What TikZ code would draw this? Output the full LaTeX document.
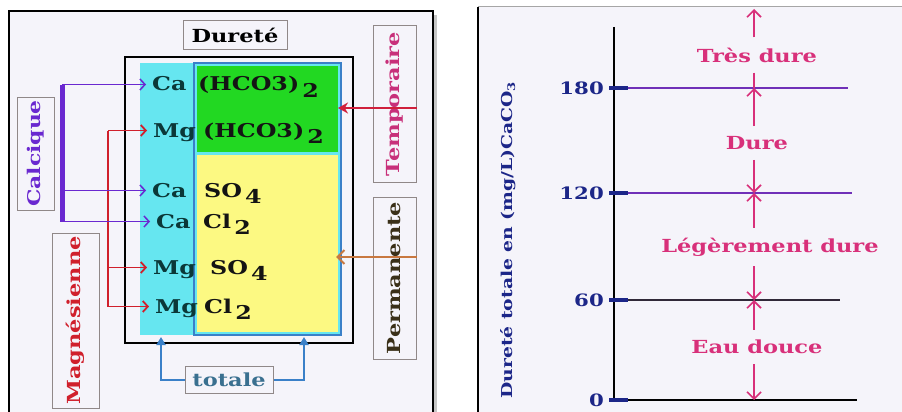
\documentclass[tikz,border=0pt]{standalone}
\usepackage{fontspec}
\setmainfont{DejaVu Serif}[FakeStretch=1.25]
\usetikzlibrary{arrows.meta,positioning}

\definecolor{panelbg}{HTML}{F5F4FA}
\definecolor{tagline}{HTML}{908888}
\definecolor{cyanfill}{HTML}{66E6F0}
\definecolor{greenfill}{HTML}{22D822}
\definecolor{yellowfill}{HTML}{FCF982}
\definecolor{blueline}{HTML}{3A80C8}
\definecolor{iondark}{HTML}{0B3838}
\definecolor{saltdark}{HTML}{141414}
\definecolor{calcol}{HTML}{6A28D0}
\definecolor{magcol}{HTML}{D0202C}
\definecolor{tempcol}{HTML}{C8307A}
\definecolor{temparrow}{HTML}{D0203C}
\definecolor{permcol}{HTML}{3A3018}
\definecolor{permarrow}{HTML}{C87840}
\definecolor{totcol}{HTML}{3A7090}
\definecolor{rngcol}{HTML}{D8307A}
\definecolor{numcol}{HTML}{1C2688}
\definecolor{hlpurple}{HTML}{7030B8}
\definecolor{hldark}{HTML}{302838}

\newcommand{\dropidx}[1]{\,\raisebox{-6pt}{#1}}

\begin{document}
\begin{tikzpicture}[x=1pt, y=-1pt,
    tag/.style={rectangle, draw=tagline, line width=1pt, fill=panelbg, inner sep=0pt, font=\bfseries\fontsize{18}{20}\selectfont},
    ion/.style={anchor=base west, inner xsep=6pt, inner ysep=0pt, text height=13pt, text depth=0pt, text=iondark, font=\bfseries\fontsize{19}{21}\selectfont},
    salt/.style={anchor=base west, inner sep=0pt, text=saltdark, font=\bfseries\fontsize{19}{21}\selectfont},
    calarr/.style={-{Straight Barb[length=5pt,width=11pt]}, draw=calcol, line width=1.5pt},
    magarr/.style={-{Straight Barb[length=5pt,width=11pt]}, draw=magcol, line width=1.8pt},
    totarr/.style={-{Triangle[length=8pt,width=9pt]}, draw=blueline, line width=2.2pt},
    rng/.style={text=rngcol, inner xsep=2pt, inner ysep=10pt, font=\bfseries\fontsize{18}{20}\selectfont},
    rngarr/.style={-{Straight Barb[length=7pt,width=14pt]}, draw=rngcol, line width=1.6pt},
    num/.style={anchor=east, text=numcol, inner sep=2pt, font=\bfseries\fontsize{17}{19}\selectfont}
]
    \useasboundingbox (0,0) rectangle (902,412);
    \fill[white] (0,0) rectangle (902,412);

    % panels
    \fill[gray!45] (13,15) rectangle (437,420);
    \draw[draw=black, line width=1.4pt, fill=panelbg] (9,11) rectangle (433,420);
    \fill[panelbg] (478,7) rectangle (910,420);
    \draw[gray!70, line width=1pt] (478,7) -- (910,7);
    \draw[black, line width=1.4pt] (478,7) -- (478,420);

    % left: table of salts
    \node[tag, minimum width=104pt, minimum height=29pt] (durete) at (235,35) {Dureté};
    \draw[black, line width=1.8pt] (125,57) rectangle (353,343);
    \fill[cyanfill] (140,63) rectangle (341,335);
    \fill[greenfill] (197,66) rectangle (338,152);
    \fill[yellowfill] (197,155) rectangle (338,332);
    \draw[blueline, line width=1.8pt] (194,63) rectangle (341,335);

    \node[ion] (ca1) at (146,91) {Ca};
    \node[ion] (mg1) at (147,137) {Mg};
    \node[ion] (ca2) at (146,197) {Ca};
    \node[ion] (ca3) at (150,228) {Ca};
    \node[ion] (mg2) at (147,274) {Mg};
    \node[ion] (mg3) at (149,313) {Mg};

    \node[salt] (hco1) at (198,91) {(HCO3)\dropidx{2}};
    \node[salt] (hco2) at (203,137) {(HCO3)\dropidx{2}};
    \node[salt] (so1) at (204,197) {SO\dropidx{4}};
    \node[salt] (cl1) at (203,228) {Cl\dropidx{2}};
    \node[salt] (so2) at (210,274) {SO\dropidx{4}};
    \node[salt] (cl2) at (204,313) {Cl\dropidx{2}};

    % calcique / magnesienne
    \node[tag, rotate=90, minimum width=113pt, minimum height=37pt, text=calcol, font=\bfseries\fontsize{17.5}{20}\selectfont] (calc) at (35.5,153.5) {Calcique};
    \node[tag, rotate=90, minimum width=175pt, minimum height=47pt, text=magcol, font=\bfseries\fontsize{18}{20}\selectfont] (magn) at (75.5,320.5) {Magnésienne};
    \coordinate (calbar) at (62,0);
    \coordinate (magbar) at (108,0);

    \draw[magcol, line width=2.4pt] (mg1.west -| magbar) -- (mg3.west -| magbar);
    \draw[magarr] (mg1.west -| magbar) -- (mg1.west);
    \draw[magarr] (mg2.west -| magbar) -- (mg2.west);
    \draw[magarr] (mg3.west -| magbar) -- (mg3.west);

    \draw[calcol, line width=5pt] (ca1.west -| calbar) -- (ca3.west -| calbar);
    \draw[calarr] (ca1.west -| calbar) -- (ca1.west);
    \draw[calarr] (ca2.west -| calbar) -- (ca2.west);
    \draw[calarr] (ca3.west -| calbar) -- (ca3.west);

    % temporaire / permanente
    \node[tag, rotate=90, minimum width=156pt, minimum height=43pt, text=tempcol] (tempo) at (394.5,104) {Temporaire};
    \node[tag, rotate=90, minimum width=162pt, minimum height=43pt, text=permcol] (perm) at (394.5,278) {Permanente};
    \coordinate (tmpin) at (338,108);
    \coordinate (perin) at (336,257);
    \draw[-{Stealth[length=10pt,width=11pt]}, temparrow, line width=2.2pt] (tempo.south |- tmpin) -- (tmpin);
    \draw[-{Straight Barb[length=7pt,width=14pt]}, permarrow, line width=2pt] (perm.south |- perin) -- (perin);

    % totale
    \node[tag, minimum width=88pt, minimum height=27pt, text=totcol] (totale) at (229,380) {totale};
    \coordinate (totl) at (161,337);
    \coordinate (totr) at (304,337);
    \draw[totarr] (totale.west) -| (totl);
    \draw[totarr] (totale.east) -| (totr);

    % right: hardness scale
    \draw[black, line width=2pt] (614,27) -- (614,402);
    \foreach \v/\yy/\xe/\lc in {180/88/848/hlpurple, 120/193/852/hlpurple, 60/300/840/hldark, 0/400/857/black}
    {
        \draw[\lc, line width=1.6pt] (614,\yy) -- (\xe,\yy);
        \draw[numcol, line width=3.5pt] (609,\yy) -- (628,\yy);
        \node[num] (n\v) at (606,\yy) {\v};
    }
    \node[rotate=90, text=numcol, font=\bfseries\fontsize{15}{17}\selectfont] (ylab) at (508,240) {Dureté totale en (mg/L)CaCO\textsubscript{3}};

    \node[rng] (tres) at (757,55) {Très dure};
    \node[rng] (dure) at (757,143) {Dure};
    \node[rng] (leg) at (770,247) {Légèrement dure};
    \node[rng] (eau) at (757,347) {Eau douce};

    \coordinate (btop) at (754,9);
    \coordinate (b180) at (754,88);
    \coordinate (b120) at (754,193);
    \coordinate (b60) at (754,300);
    \coordinate (b0) at (754,400);

    \draw[rngarr] (tres.north -| btop) -- (btop);
    \draw[rngcol, line width=1.6pt] (tres.south -| btop) -- (b180);
    \draw[rngarr] (dure.north -| btop) -- (b180);
    \draw[rngarr] (dure.south -| btop) -- (b120);
    \draw[rngarr] (leg.north -| btop) -- (b120);
    \draw[rngarr] (leg.south -| btop) -- (b60);
    \draw[rngarr] (eau.north -| btop) -- (b60);
    \draw[rngarr] (eau.south -| btop) -- (b0);
\end{tikzpicture}
\end{document}
